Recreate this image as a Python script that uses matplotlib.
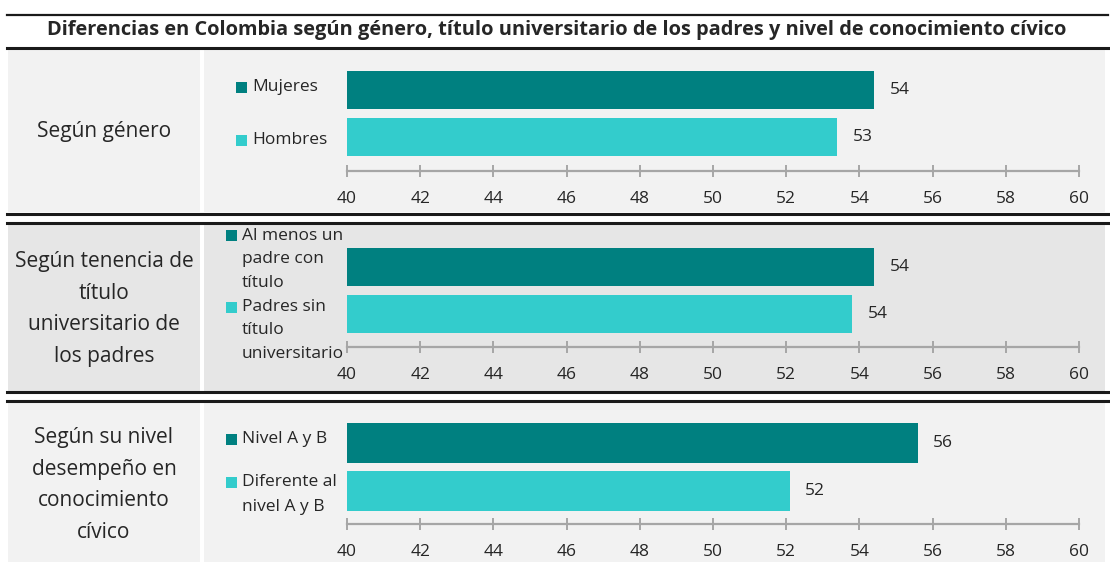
import matplotlib
matplotlib.use('Agg')
import matplotlib.pyplot as plt
from matplotlib.patches import Rectangle
from matplotlib.lines import Line2D

plt.rcParams['font.family'] = ['Open Sans', 'DejaVu Sans']

W, H = 1110, 562

titulo = 'Diferencias en Colombia según género, título universitario de los padres y nivel de conocimiento cívico'
paneles = ['Según género',
           'Según tenencia de\ntítulo\nuniversitario de\nlos padres',
           'Según su nivel\ndesempeño en\nconocimiento\ncívico']
series_genero = ['Mujeres', 'Hombres']
valores_genero = [54.4, 53.4]
series_padres = ['Al menos un\npadre con\ntítulo', 'Padres sin\ntítulo\nuniversitario']
valores_padres = [54.4, 53.8]
series_nivel = ['Nivel A y B', 'Diferente al\nnivel A y B']
valores_nivel = [55.6, 52.1]
ticks_x = [40, 42, 44, 46, 48, 50, 52, 54, 56, 58, 60]

colores = ['#008080', '#33CCCC']
texto = '#262626'
gris_eje = '#A6A6A6'

# layout of each block, in pixels
bloques = [
    dict(top=50, bottom=212, bg='#F2F2F2', c=(90, 137), eje=170.7, lx=236, ly=(87, 140), ly_paso=23.5,
         label_y=132),
    dict(top=224, bottom=391, bg='#E6E6E6', c=(267, 314), eje=347, lx=226, ly=(236, 307), ly_paso=23.5,
         label_y=262),
    dict(top=402, bottom=562, bg='#F2F2F2', c=(443, 491), eje=524, lx=226, ly=(439, 482), ly_paso=25,
         label_y=438),
]
datos = [(series_genero, valores_genero), (series_padres, valores_padres), (series_nivel, valores_nivel)]


def fx(px):
    return px / W


def fy(py):
    return 1 - py / H


fig = plt.figure(figsize=(W / 100, H / 100), dpi=100)
fig.patch.set_facecolor('white')


def hline(py, lw=2.0):
    fig.add_artist(Line2D([fx(7), fx(1108)], [fy(py), fy(py)], color='#1A1A1A', lw=lw,
                          transform=fig.transFigure))


hline(14.5, 1.6)
fig.text(fx(557), fy(30), titulo, ha='center', va='center', fontsize=14.4, fontweight='bold', color=texto)
hline(47.5, 2.2)

for i, (b, (series, valores)) in enumerate(zip(bloques, datos)):
    alto = b['bottom'] - b['top']
    fig.add_artist(Rectangle((fx(8), fy(b['bottom'])), fx(200 - 8), alto / H, facecolor=b['bg'],
                             edgecolor='none', transform=fig.transFigure, zorder=0))
    fig.add_artist(Rectangle((fx(204), fy(b['bottom'])), fx(1105 - 204), alto / H, facecolor=b['bg'],
                             edgecolor='none', transform=fig.transFigure, zorder=0))

    # left label
    for k, linea in enumerate(paneles[i].split('\n')):
        fig.text(fx(104), fy(b['label_y'] + k * 31.5), linea, ha='center', va='center',
                 fontsize=15, color=texto)

    # bars
    c1, c2 = b['c']
    paso = c2 - c1
    ax_top = c1 - 0.55 * paso
    ax = fig.add_axes([fx(347), fy(b['eje']), fx(1079 - 347), (b['eje'] - ax_top) / H])
    ax.set_facecolor('none')
    pos = [1, 0]
    ax.barh(pos, [v - 40 for v in valores], left=40, height=0.82, color=colores, zorder=2)
    for p, v in zip(pos, valores):
        ax.text(v + 0.42, p, f'{v:.0f}', ha='left', va='center', fontsize=12.5, color=texto)
    ax.set_xlim(40, 60)
    ax.set_ylim(-(b['eje'] - c2) / paso, 1.55)
    ax.set_xticks(ticks_x)
    ax.set_yticks([])
    for s in ['top', 'right', 'left']:
        ax.spines[s].set_visible(False)
    ax.spines['bottom'].set_color(gris_eje)
    ax.spines['bottom'].set_linewidth(1.6)
    ax.spines['bottom'].set_zorder(1)
    ax.tick_params(axis='x', direction='inout', length=9, width=1.4, color=gris_eje,
                   labelsize=12.5, labelcolor=texto, pad=10)

    # legend
    for j, (nombre, ly) in enumerate(zip(series, b['ly'])):
        fig.add_artist(Rectangle((fx(b['lx']), fy(ly + 5.5)), fx(11), 11 / H, facecolor=colores[j],
                                 edgecolor='none', transform=fig.transFigure))
        for k, linea in enumerate(nombre.split('\n')):
            fig.text(fx(b['lx'] + 16), fy(ly + k * b['ly_paso']), linea, ha='left', va='center',
                     fontsize=12.5, color=texto)

hline(214, 2.2)
hline(223, 2.2)
hline(392, 2.2)
hline(400.5, 2.2)

fig.savefig('out.png', dpi=100, facecolor='white')
